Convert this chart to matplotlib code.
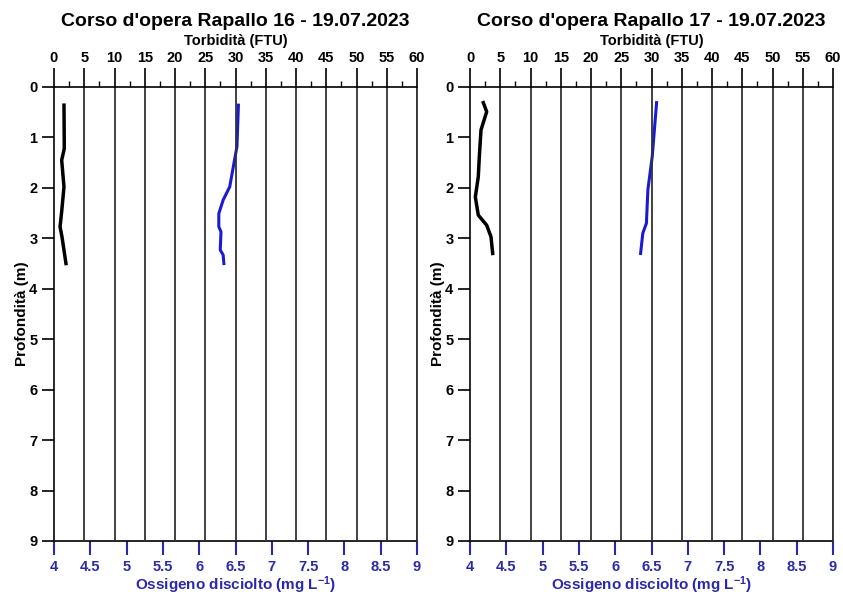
import numpy as np
import matplotlib
matplotlib.use('Agg')
import matplotlib.pyplot as plt
from matplotlib.ticker import MultipleLocator

plt.rcParams['font.family'] = 'Liberation Sans'
plt.rcParams['font.weight'] = 'bold'
plt.rcParams['axes.labelweight'] = 'bold'
plt.rcParams['axes.titleweight'] = 'bold'
plt.rcParams['mathtext.fontset'] = 'custom'
plt.rcParams['mathtext.bf'] = 'Liberation Sans:bold'
plt.rcParams['mathtext.rm'] = 'Liberation Sans:bold'
plt.rcParams['mathtext.default'] = 'bf'

## --data
titles = ["Corso d'opera Rapallo 16 - 19.07.2023",
          "Corso d'opera Rapallo 17 - 19.07.2023"]

# Rapallo 16
depth_turb_16 = [0.36, 1.22, 1.45, 1.98, 2.47, 2.77, 2.97, 3.50]
turb_16 = [1.65, 1.70, 1.27, 1.65, 1.27, 1.00, 1.32, 1.98]
depth_ox_16 = [0.36, 1.18, 1.58, 1.98, 2.24, 2.51, 2.77, 2.87, 3.23, 3.33, 3.50]
ox_16 = [6.54, 6.52, 6.47, 6.42, 6.33, 6.27, 6.27, 6.30, 6.29, 6.33, 6.34]

# Rapallo 17
depth_turb_17 = [0.31, 0.49, 0.85, 1.38, 1.78, 2.18, 2.54, 2.74, 2.97, 3.30]
turb_17 = [2.20, 2.76, 1.82, 1.54, 1.37, 0.88, 1.37, 2.76, 3.47, 3.75]
depth_ox_17 = [0.31, 1.38, 2.04, 2.70, 2.90, 3.30]
ox_17 = [6.57, 6.51, 6.45, 6.43, 6.38, 6.35]

turb_data = [(turb_16, depth_turb_16), (turb_17, depth_turb_17)]
ox_data = [(ox_16, depth_ox_16), (ox_17, depth_ox_17)]

blue = '#1a1ad0'
tick_blue = '#2a2aa8'

fig = plt.figure(figsize=(8.43, 5.97), dpi=100)
lefts = [54/843, 470/843]
w = 363/843
b = 1 - 541/597
h = (541 - 87)/597

for i in range(2):
    ax = fig.add_axes([lefts[i], b, w, h])
    ax.set_ylim(9, 0)
    ax.set_xlim(4, 9)
    ax.yaxis.set_major_locator(MultipleLocator(1))
    ax.set_xticks(np.arange(4, 9.01, 0.5))
    ax.set_xticklabels(['4', '4.5', '5', '5.5', '6', '6.5', '7', '7.5', '8', '8.5', '9'])
    ax.tick_params(axis='x', direction='out', length=10, width=1.5, color=tick_blue,
                   labelcolor=tick_blue, labelsize=10.5, pad=4)
    ax.tick_params(axis='y', direction='out', length=9, width=1.2, labelsize=10.5, pad=3)
    ax.spines['right'].set_visible(False)
    ax.spines['top'].set_visible(False)
    ax.spines['left'].set_linewidth(1.2)
    ax.spines['bottom'].set_linewidth(1.2)
    ax.set_xlabel(r'Ossigeno disciolto (mg L$^{-1}$)', color=tick_blue,
                  fontsize=11, labelpad=0)
    ax.set_ylabel('Profondità (m)', fontsize=11, labelpad=0)

    ax2 = ax.twiny()
    ax2.set_xlim(0, 60)
    ax2.xaxis.set_major_locator(MultipleLocator(5))
    ax2.xaxis.set_minor_locator(MultipleLocator(2.5))
    ax2.tick_params(axis='x', which='major', direction='out', length=14, width=1.2,
                    labelsize=10.5, pad=2)
    ax2.tick_params(axis='x', which='minor', direction='out', length=4, width=1.0)
    ax2.grid(True, axis='x', which='major', color='#333333', linewidth=1.3)
    ax2.spines['right'].set_linewidth(1.3)
    ax2.spines['right'].set_color('#333333')
    ax2.spines['top'].set_linewidth(1.2)
    ax2.spines['left'].set_visible(False)
    ax2.spines['bottom'].set_visible(False)
    ax2.set_xlabel('Torbidità (FTU)', fontsize=10.5, labelpad=4)

    ax.plot(ox_data[i][0], ox_data[i][1], color=blue, lw=2.2, zorder=5)
    ax2.plot(turb_data[i][0], turb_data[i][1], color='black', lw=2.5, zorder=5)

    ax2.set_title(titles[i], fontsize=14, pad=6)

fig.savefig('out.png', dpi=100)
